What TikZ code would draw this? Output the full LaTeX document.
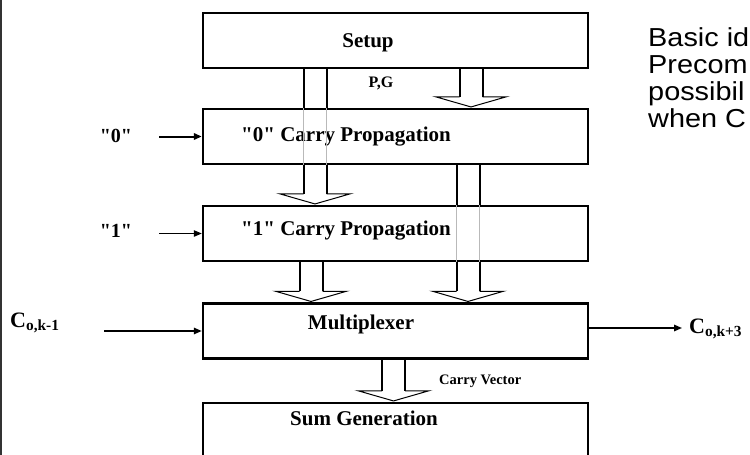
\documentclass[tikz,border=0pt]{standalone}
\usepackage{fontspec}
\usepackage{graphicx}
\setmainfont{Liberation Serif}[Ligatures=TeXOff]
\newfontfamily\arialfont{Liberation Sans}
\usetikzlibrary{arrows.meta,calc}
\newcommand{\hollowarrow}[3]{%
  \draw[stemline] let \p1=(#1 |- #2), \p2=(#1 |- #3) in
    (\x1-11.5pt,\y1) -- (\x1-11.5pt,\y2+11pt)
    (\x1+11.5pt,\y1) -- (\x1+11.5pt,\y2+11pt);
  \draw[headline] let \p1=(#1 |- #2), \p2=(#1 |- #3) in
    (\x1-11.5pt,\y2+11pt) -- (\x1-35.5pt,\y2+11pt) -- (\x1,\y2+0.8pt)
    -- (\x1+35.5pt,\y2+11pt) -- (\x1+11.5pt,\y2+11pt);}
\newcommand{\blackstems}[3]{%
  \draw[stemline] let \p1=(#1 |- #2), \p2=(#1 |- #3) in
    (\x1-11.5pt,\y1) -- (\x1-11.5pt,\y2) (\x1+11.5pt,\y1) -- (\x1+11.5pt,\y2);}
\newcommand{\ghoststems}[3]{%
  \draw[ghost] let \p1=(#1 |- #2), \p2=(#1 |- #3) in
    (\x1-11.5pt,\y1) -- (\x1-11.5pt,\y2) (\x1+11.5pt,\y1) -- (\x1+11.5pt,\y2);}
\newcommand{\widetext}[1]{\scalebox{1.11}[1]{#1}}
\begin{document}
\begin{tikzpicture}[x=1pt,y=-1pt,
  box/.style={draw, line width=2.5pt, minimum width=385pt, minimum height=55pt, inner sep=0pt},
  boxlabel/.style={font=\fontsize{21}{24}\selectfont\bfseries, inner sep=0pt, anchor=base},
  sidelabel/.style={font=\fontsize{20}{24}\selectfont\bfseries, inner sep=0pt, anchor=base},
  clabel/.style={font=\fontsize{22}{26}\selectfont\bfseries, inner sep=0pt, anchor=base west},
  smalllabel/.style={font=\fontsize{16}{19}\selectfont\bfseries, inner sep=0pt, anchor=base},
  notelabel/.style={font=\fontsize{14.5}{17}\selectfont\bfseries, inner sep=0pt, anchor=base west},
  idea/.style={font=\arialfont\fontsize{26}{30}\selectfont, inner sep=0pt, anchor=base west},
  stemline/.style={line width=2pt},
  headline/.style={line width=1pt, line join=miter},
  ghost/.style={line width=0.6pt, gray!55},
  sig/.style={-{Triangle[length=8pt,width=6.5pt]}},
]
\useasboundingbox (0,0) rectangle (750,455);
% left border
\draw[line width=1.5pt, black!80] (1,0) -- (1,455);
% boxes
\node[box] (setup) at (395.5,40.5) {};
\node[box] (zero) at (395.5,136.5) {};
\node[box] (one) at (395.5,233.5) {};
\node[box] (mux) at (395.5,331) {};
\node[box, minimum height=57pt] (sum) at (395.5,431.5) {};
% box labels
\node[boxlabel] (tsetup) at (368,47) {Setup};
\node[boxlabel] (tzero) at (346,141) {"0" Carry Propagation};
\node[boxlabel] (tone) at (346,235) {"1" Carry Propagation};
\node[boxlabel] (tmux) at (361,329) {Multiplexer};
\node[boxlabel] (tsum) at (364,425) {Sum Generation};
% x positions of the wide arrows
\coordinate (xa) at (471,0);
\coordinate (xb) at (315,0);
\coordinate (xc) at (468,0);
\coordinate (xd) at (311,0);
\coordinate (xe) at (393.5,0);
% wide arrows
\hollowarrow{xa}{setup.south}{zero.north}
\blackstems{xb}{setup.south}{zero.north}
\ghoststems{xb}{zero.north}{zero.south}
\hollowarrow{xb}{zero.south}{one.north}
\blackstems{xc}{zero.south}{one.north}
\ghoststems{xc}{one.north}{one.south}
\hollowarrow{xc}{one.south}{mux.north}
\hollowarrow{xd}{one.south}{mux.north}
\hollowarrow{xe}{mux.south}{sum.north}
\node[smalllabel] (pg) at (381,87) {P,G};
\node[notelabel] (cv) at (439,384) {Carry Vector};
% side inputs
\node[sidelabel] (lzero) at (116,142) {"0"};
\node[sidelabel] (lone) at (116,237) {"1"};
\node[clabel] (cin) at (10,327) {C\textsubscript{o,k-1}};
\node[clabel] (cout) at (689,333) {C\textsubscript{o,k+3}};
\coordinate (szero) at (159,136.5);
\coordinate (sone) at (159,233.5);
\coordinate (scin) at (104,331);
\coordinate (ecout) at (682,328);
\draw[sig, line width=2pt] (szero) -- (szero -| zero.west);
\draw[sig, line width=1pt] (sone) -- (sone -| one.west);
\draw[sig, line width=1.5pt] (scin) -- (scin -| mux.west);
\draw[sig, line width=1.5pt] (ecout -| mux.east) -- (ecout);
% idea text at the picture edge
\node[idea] (i1) at (648,46) {\widetext{Basic id}};
\node[idea] (i2) at (648,73) {\widetext{Precom}};
\node[idea] (i3) at (648,100) {\widetext{possibil}};
\node[idea] (i4) at (648,127) {\widetext{when C}};
\end{tikzpicture}
\end{document}
